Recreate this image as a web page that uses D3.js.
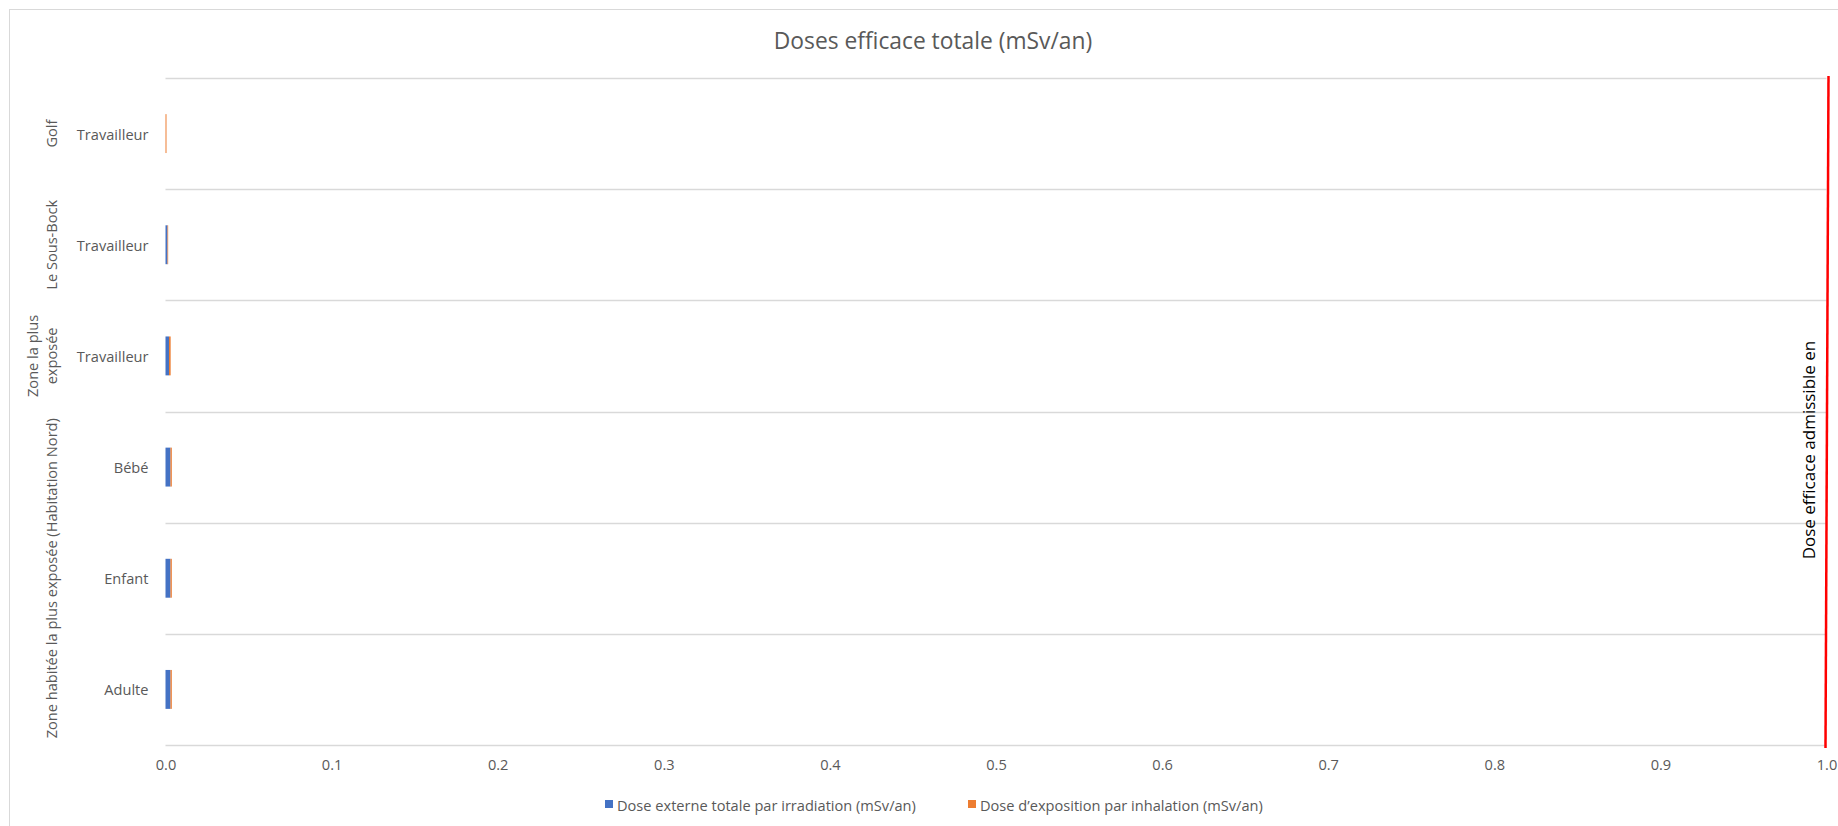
<!DOCTYPE html>
<html>
<head>
<meta charset="utf-8">
<script src="https://cdn.jsdelivr.net/npm/d3@7/dist/d3.min.js"></script>
<style>
  html, body { margin: 0; padding: 0; background: #fff; }
  svg { display: block; }
  text { font-family: "Open Sans", "Liberation Sans", sans-serif; }
</style>
</head>
<body>
<svg id="chart" width="1838" height="826"></svg>
<script>
// Categories from top to bottom of the chart
const categories = ["Golf|Travailleur", "SousBock|Travailleur", "ZPE|Travailleur", "ZH|Bébé", "ZH|Enfant", "ZH|Adulte"];
const categoryLabels = ["Travailleur", "Travailleur", "Travailleur", "Bébé", "Enfant", "Adulte"];

// Group labels on the outer axis (first and last category index covered)
const groupNames = [["Golf"], ["Le Sous-Bock"], ["Zone la plus", "exposée"], ["Zone habitée la plus exposée (Habitation Nord)"]];
const groupStart = [0, 1, 2, 3];
const groupEnd = [0, 1, 2, 5];

// Series values (mSv/an)
const doseExterne = [0.0000, 0.0012, 0.0021, 0.0030, 0.0030, 0.0030];
const doseInhalation = [0.0006, 0.0004, 0.0010, 0.0008, 0.0008, 0.0008];

const seriesNames = ["Dose externe totale par irradiation (mSv/an)", "Dose d\u2019exposition par inhalation (mSv/an)"];
const seriesColors = ["#4472C4", "#ED7D31"];

// Admissible dose reference
const doseAdmissible = 1.0;
const doseAdmissibleLabel = "Dose efficace admissible en";

const xTicks = [0, 0.1, 0.2, 0.3, 0.4, 0.5, 0.6, 0.7, 0.8, 0.9, 1.0];
const title = "Doses efficace totale (mSv/an)";

const svg = d3.select("#chart");
const W = 1838, H = 826;
const plot = { left: 165.5, right: 1826.5, top: 78, bottom: 745 };
const fontSize = 14.6;

// Chart frame
svg.append("rect")
  .attr("x", 9.5).attr("y", 9.5)
  .attr("width", W + 20).attr("height", H + 20)
  .attr("fill", "#fff").attr("stroke", "#d9d9d9").attr("stroke-width", 1);

const x = d3.scaleLinear().domain([0, 1]).range([plot.left, plot.right]);
const y = d3.scaleBand().domain(categories).range([plot.top, plot.bottom])
  .paddingInner(0.65).paddingOuter(0.325);

// Title
svg.append("text")
  .attr("x", 933).attr("y", 40)
  .attr("text-anchor", "middle").attr("dominant-baseline", "central")
  .attr("fill", "#595959").attr("font-size", 22.8)
  .text(title);

// Horizontal gridlines at category boundaries
const step = y.step();
const boundaries = d3.range(categories.length + 1).map(i => plot.top + i * step);
svg.append("g").selectAll("line").data(boundaries).join("line")
  .attr("x1", plot.left).attr("x2", plot.right)
  .attr("y1", d => Math.round(d) + 0.5).attr("y2", d => Math.round(d) + 0.5)
  .attr("stroke", "#d9d9d9").attr("stroke-width", 1.5);

// Bottom value axis
const xAxis = svg.append("g")
  .attr("transform", `translate(0,${plot.bottom})`)
  .call(d3.axisBottom(x).tickValues(xTicks).tickFormat(d3.format(".1f")).tickSize(0).tickPadding(15));
xAxis.select(".domain").remove();
xAxis.selectAll("text")
  .attr("font-family", "'Open Sans', sans-serif")
  .attr("font-size", fontSize).attr("fill", "#595959");

// Stacked bars
const stackData = categories.map((c, i) => ({ cat: c, ext: doseExterne[i], inh: doseInhalation[i] }));
const stacked = d3.stack().keys(["ext", "inh"])(stackData);
svg.append("g").selectAll("g").data(stacked).join("g")
  .attr("fill", (d, i) => seriesColors[i])
  .selectAll("rect").data(d => d).join("rect")
  .attr("x", d => x(d[0]))
  .attr("width", d => Math.max(0, x(d[1]) - x(d[0])))
  .attr("y", d => y(d.data.cat))
  .attr("height", y.bandwidth());

// Category labels
svg.append("g").selectAll("text").data(categories).join("text")
  .attr("x", 148.5)
  .attr("y", d => y(d) + y.bandwidth() / 2)
  .attr("text-anchor", "end").attr("dominant-baseline", "central")
  .attr("fill", "#595959").attr("font-size", fontSize)
  .text((d, i) => categoryLabels[i]);

// Group labels (rotated)
const groupG = svg.append("g");
groupNames.forEach((lines, gi) => {
  const y0 = plot.top + groupStart[gi] * step;
  const y1 = plot.top + (groupEnd[gi] + 1) * step;
  const cy = (y0 + y1) / 2;
  const lineGap = 19;
  lines.forEach((ln, li) => {
    const cx = 51 - (lines.length - 1 - li) * lineGap;
    groupG.append("text")
      .attr("transform", `translate(${cx},${cy}) rotate(-90)`)
      .attr("text-anchor", "middle").attr("dominant-baseline", "central")
      .attr("fill", "#595959").attr("font-size", fontSize)
      .text(ln);
  });
});

// Admissible dose line
svg.append("line")
  .attr("x1", x(doseAdmissible) + 2).attr("x2", x(doseAdmissible) - 1)
  .attr("y1", plot.top - 2).attr("y2", plot.bottom + 3)
  .attr("stroke", "#FF0000").attr("stroke-width", 2.5);

svg.append("text")
  .attr("transform", `translate(${x(doseAdmissible) - 18},${450}) rotate(-90)`)
  .attr("text-anchor", "middle").attr("dominant-baseline", "central")
  .attr("fill", "#000").attr("font-size", 17)
  .text(doseAdmissibleLabel);

// Legend
const legendX = [605, 968];
const legend = svg.append("g");
seriesNames.forEach((name, i) => {
  legend.append("rect")
    .attr("x", legendX[i]).attr("y", 800)
    .attr("width", 8).attr("height", 8)
    .attr("fill", seriesColors[i]);
  legend.append("text")
    .attr("x", legendX[i] + 12).attr("y", 804.5)
    .attr("dominant-baseline", "central")
    .attr("fill", "#595959").attr("font-size", fontSize)
    .text(name);
});
</script>
</body>
</html>
